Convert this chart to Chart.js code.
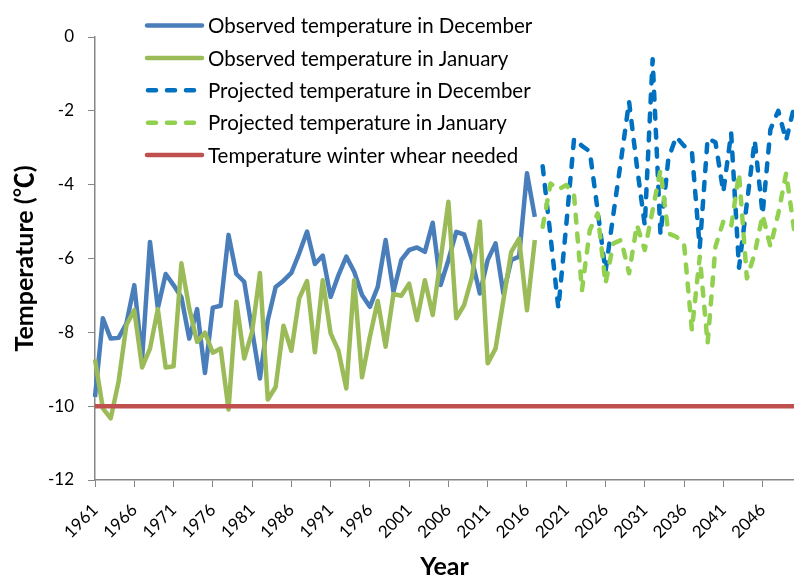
<!DOCTYPE html>
<html>
<head>
<meta charset="utf-8">
<title>Winter temperature</title>
<script src="https://cdn.jsdelivr.net/npm/chart.js@4.4.1/dist/chart.umd.min.js"></script>
<style>
  html, body { margin: 0; padding: 0; background: #fff; }
  #wrap { width: 794px; height: 578px; position: relative; }
</style>
</head>
<body>
<div id="wrap"><canvas id="chartTemp"></canvas></div>
<script>
// years on the category axis
const startYear = 1961;
const endYear = 2050;

// observed 1961-2017
const observedDec = [
  -9.75, -7.62, -8.17, -8.15, -7.76, -6.72, -8.71, -5.55, -7.35, -6.42,
  -6.72, -7.05, -8.17, -7.37, -9.10, -7.33, -7.28, -5.36, -6.42, -6.63,
  -7.94, -9.25, -7.67, -6.77, -6.60, -6.39, -5.86, -5.27, -6.15, -5.92,
  -7.04, -6.45, -5.95, -6.36, -6.99, -7.31, -6.77, -5.50, -6.90, -6.04,
  -5.77, -5.70, -5.82, -5.03, -6.72, -6.04, -5.28, -5.35, -6.04, -6.95,
  -6.04, -5.59, -6.95, -6.04, -5.95, -3.69, -4.87
];
const observedJan = [
  -8.73, -10.06, -10.33, -9.34, -7.80, -7.40, -8.95, -8.44, -7.37, -8.95,
  -8.92, -6.13, -7.35, -8.26, -8.01, -8.55, -8.44, -10.09, -7.17, -8.71,
  -7.99, -6.39, -9.82, -9.48, -7.82, -8.50, -7.08, -6.61, -8.54, -6.59,
  -8.03, -8.50, -9.52, -6.59, -9.22, -8.12, -7.15, -8.39, -6.96, -7.01,
  -6.68, -7.67, -6.59, -7.53, -6.04, -4.46, -7.62, -7.26, -6.50, -5.00,
  -8.84, -8.44, -7.13, -5.82, -5.46, -7.40, -5.50
];

// projected 2018-2050
const projectedDec = [
  -3.50, -5.40, -7.35, -5.10, -2.75, -2.95, -3.10, -4.70, -6.35, -4.80,
  -3.30, -1.75, -3.50, -5.10, -0.60, -5.35, -3.30, -2.70, -2.95, -3.10,
  -5.70, -2.75, -2.85, -4.20, -2.60, -6.25, -4.50, -2.80, -4.80, -2.50,
  -2.00, -2.80, -1.90
];
const projectedJan = [
  -5.14, -3.97, -4.13, -4.01, -4.30, -6.86, -5.23, -4.78, -6.68, -5.59,
  -5.50, -6.40, -5.09, -5.77, -4.69, -3.60, -5.32, -5.41, -5.60, -7.94,
  -5.95, -8.30, -5.68, -5.00, -5.14, -3.69, -6.54, -5.86, -4.82, -5.68,
  -4.78, -3.69, -5.20
];

const neededTemp = -10;
const yTicks = { min: -12, max: 0, step: 2 };
const labelEvery = 5;

const seriesNames = [
  'Observed temperature in December',
  'Observed temperature in January',
  'Projected temperature in December',
  'Projected temperature in January',
  'Temperature winter whear needed'
];

(function () {
  const FONT = 'Lato, "Noto Sans CJK SC", "DejaVu Sans", sans-serif';
  const AXIS_GREY = '#868686';

  var years = [];
  for (var y = startYear; y <= endYear; y++) years.push(y);

  // pad observed / projected onto the full year range
  function placeAt(values, fromYear) {
    var out = years.map(function () { return null; });
    values.forEach(function (v, i) { out[fromYear - startYear + i] = v; });
    return out;
  }
  var projStart = startYear + observedDec.length;

  var lineBase = {
    fill: false,
    tension: 0,
    pointRadius: 0,
    pointHoverRadius: 0,
    borderWidth: 4.5,
    borderJoinStyle: 'round',
    spanGaps: false
  };
  var dashed = { borderDash: [8, 11], borderCapStyle: 'round' };

  var datasets = [
    Object.assign({}, lineBase, {
      label: seriesNames[0], data: placeAt(observedDec, startYear),
      borderColor: '#4a7ebb', order: 4
    }),
    Object.assign({}, lineBase, {
      label: seriesNames[1], data: placeAt(observedJan, startYear),
      borderColor: '#9bbb59', order: 3
    }),
    Object.assign({}, lineBase, dashed, {
      label: seriesNames[2], data: placeAt(projectedDec, projStart),
      borderColor: '#0070c0', order: 2
    }),
    Object.assign({}, lineBase, dashed, {
      label: seriesNames[3], data: placeAt(projectedJan, projStart),
      borderColor: '#92d050', order: 1
    }),
    Object.assign({}, lineBase, {
      label: seriesNames[4], data: years.map(function () { return neededTemp; }),
      borderColor: '#c0504d', order: 0
    })
  ];

  // legend drawn by hand, it sits over the top left of the plot like in the original
  var boxLegend = {
    id: 'boxLegend',
    afterDraw: function (chart) {
      var ctx = chart.ctx;
      ctx.save();
      ctx.font = Chart.helpers.toFont({ family: FONT, size: 20.5 }).string;
      ctx.textBaseline = 'middle';
      ctx.textAlign = 'left';
      chart.data.datasets.forEach(function (ds, i) {
        var yy = 25.5 + i * 32.4;
        ctx.strokeStyle = ds.borderColor;
        ctx.lineWidth = ds.borderWidth;
        ctx.lineCap = 'round';
        ctx.beginPath();
        if (ds.borderDash) {
          ctx.setLineDash([8, 11]);
          ctx.moveTo(148, yy);
          ctx.lineTo(198, yy);
        } else {
          ctx.setLineDash([]);
          ctx.moveTo(147, yy);
          ctx.lineTo(202, yy);
        }
        ctx.stroke();
        ctx.setLineDash([]);
        ctx.fillStyle = '#000';
        ctx.fillText(ds.label, 208, yy + 1);
      });
      ctx.restore();
    }
  };

  new Chart(document.getElementById('chartTemp'), {
    type: 'line',
    data: { labels: years, datasets: datasets },
    plugins: [boxLegend],
    options: {
      responsive: true,
      maintainAspectRatio: false,
      animation: false,
      layout: { padding: { top: 37, right: 0, bottom: 0, left: 0 } },
      plugins: {
        legend: { display: false },
        tooltip: { enabled: false }
      },
      scales: {
        x: {
          type: 'category',
          offset: false,
          border: { display: true, color: AXIS_GREY, width: 1.5 },
          grid: {
            drawOnChartArea: false,
            drawTicks: true,
            tickLength: 7,
            color: function (c) { return c.index % labelEvery === 0 ? AXIS_GREY : 'rgba(0,0,0,0)'; }
          },
          ticks: {
            autoSkip: false,
            minRotation: 45,
            maxRotation: 45,
            padding: 13,
            color: '#000',
            font: { family: FONT, size: 17 },
            callback: function (val, idx) { return idx % labelEvery === 0 ? String(years[idx]) : ''; }
          },
          title: {
            display: true,
            text: 'Year',
            color: '#000',
            font: { family: FONT, size: 25, weight: 'bold' },
            padding: { top: 0, bottom: -4 }
          },
          afterFit: function (scale) {
            scale.height = 98;
            scale.paddingLeft = 0;
            scale.paddingRight = 0;
          }
        },
        y: {
          min: yTicks.min,
          max: yTicks.max,
          border: { display: true, color: AXIS_GREY, width: 1.5 },
          grid: { drawOnChartArea: false, drawTicks: true, tickLength: 7, color: AXIS_GREY },
          ticks: {
            stepSize: yTicks.step,
            padding: 14,
            color: '#000',
            font: { family: FONT, size: 17 }
          },
          title: {
            display: true,
            text: 'Temperature (℃)',
            color: '#000',
            font: { family: FONT, size: 25, weight: 'bold' },
            padding: { top: 10, bottom: 0 }
          },
          afterFit: function (scale) {
            scale.width = 95;
          }
        }
      }
    }
  });
})();
</script>
</body>
</html>
